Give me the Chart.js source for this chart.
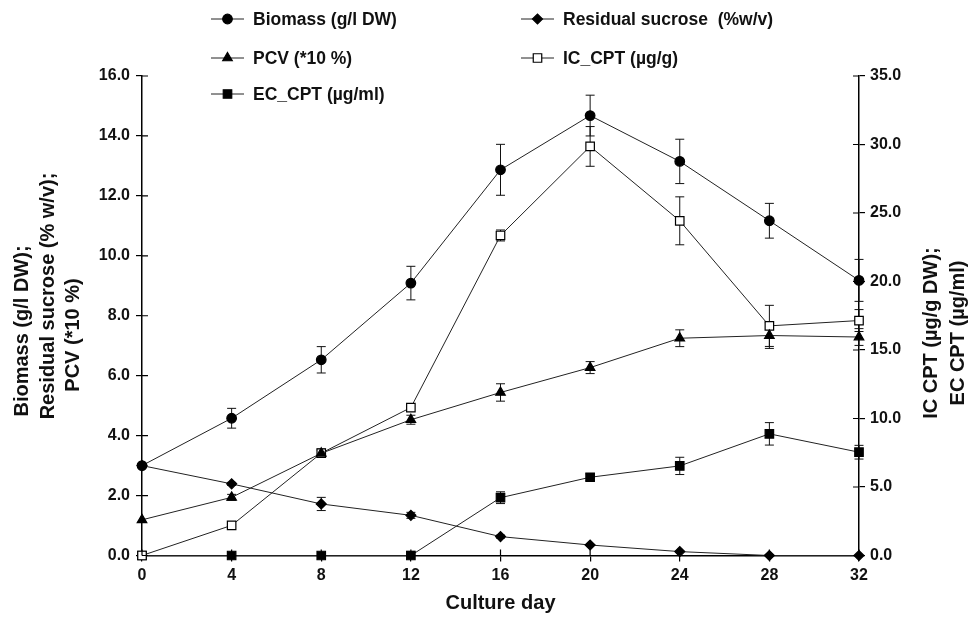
<!DOCTYPE html>
<html>
<head>
<meta charset="utf-8">
<script src="https://cdn.jsdelivr.net/npm/chart.js@4.4.0/dist/chart.umd.min.js"></script>
<style>
  body { margin: 0; background: #fff; }
  #wrap { width: 979px; height: 621px; }
</style>
</head>
<body>
<div id="wrap"><canvas id="myChart" width="979" height="621"></canvas></div>
<script>
const days = [0, 4, 8, 12, 16, 20, 24, 28, 32];

const biomass    = [3.0, 4.58, 6.53, 9.09, 12.87, 14.68, 13.15, 11.17, 9.18];
const biomassErr = [0, 0.33, 0.44, 0.56, 0.85, 0.68, 0.74, 0.58, 0.70];

const sucrose    = [3.0, 2.39, 1.72, 1.34, 0.63, 0.35, 0.13, 0, 0];
const sucroseErr = [0, 0.05, 0.22, 0.10, 0.05, 0, 0, 0, 0];

const pcv    = [1.19, 1.94, 3.41, 4.53, 5.44, 6.27, 7.25, 7.34, 7.29];
const pcvErr = [0, 0.10, 0.10, 0.15, 0.29, 0.20, 0.28, 0.43, 0.28];

const icCpt    = [0, 2.2, 7.47, 10.8, 23.36, 29.86, 24.43, 16.76, 17.15];
const icCptErr = [0, 0, 0.3, 0, 0.4, 1.45, 1.75, 1.5, 0.8];

const ecCpt    = [0, 0, 0, 0, 4.22, 5.71, 6.54, 8.88, 7.54];
const ecCptErr = [0, 0, 0, 0.3, 0.43, 0.25, 0.63, 0.82, 0.5];

const leftTicks = { min: 0, max: 16, step: 2 };
const rightTicks = { min: 0, max: 35, step: 5 };

const leftTitle = ['Biomass (g/l DW);', 'Residual sucrose (% w/v);', 'PCV (*10 %)'];
const rightTitle = ['IC CPT (µg/g DW);', 'EC CPT (µg/ml)'];

const FONT = "'Liberation Sans', Arial, Helvetica, sans-serif";
const INK = '#111';

function pts(vals) {
    return vals.map((v, i) => ({ x: days[i], y: v }));
}

function series(label, vals, errs, axis, style, radius, fill) {
    return {
        label: label,
        data: pts(vals),
        errors: errs,
        yAxisID: axis,
        borderColor: '#222',
        borderWidth: 1,
        pointStyle: style,
        pointRadius: radius,
        pointHoverRadius: radius,
        pointBackgroundColor: fill,
        pointBorderColor: '#000',
        pointBorderWidth: 1.2,
        tension: 0,
        fill: false,
        clip: false
    };
}

// error bars, drawn under the markers
const errorBars = {
    id: 'errorBars',
    beforeDatasetsDraw(chart) {
        const ctx = chart.ctx;
        const xs = chart.scales.x;
        ctx.save();
        ctx.strokeStyle = '#111';
        ctx.lineWidth = 1;
        chart.data.datasets.forEach(ds => {
            const ys = chart.scales[ds.yAxisID];
            ds.data.forEach((p, i) => {
                const e = ds.errors[i];
                if (!e) return;
                const px = xs.getPixelForValue(p.x);
                const top = ys.getPixelForValue(p.y + e);
                const bot = ys.getPixelForValue(Math.max(p.y - e, ys.min));
                ctx.beginPath();
                ctx.moveTo(px, top); ctx.lineTo(px, bot);
                ctx.moveTo(px - 4.5, top); ctx.lineTo(px + 4.5, top);
                if (p.y - e > ys.min) { ctx.moveTo(px - 4.5, bot); ctx.lineTo(px + 4.5, bot); }
                ctx.stroke();
            });
        });
        ctx.restore();
    }
};

// inner half of the crossing tick marks, the axis titles and the legend
const decorations = {
    id: 'decorations',
    afterDraw(chart) {
        const ctx = chart.ctx;
        const a = chart.chartArea;
        const { x, y, y2 } = chart.scales;
        ctx.save();
        ctx.strokeStyle = '#000';
        ctx.lineWidth = 1.2;
        ctx.beginPath();
        x.ticks.forEach(t => { const px = x.getPixelForValue(t.value); ctx.moveTo(px, a.bottom); ctx.lineTo(px, a.bottom - 6); });
        y.ticks.forEach(t => { const py = y.getPixelForValue(t.value); ctx.moveTo(a.left, py); ctx.lineTo(a.left + 6, py); });
        y2.ticks.forEach(t => { const py = y2.getPixelForValue(t.value); ctx.moveTo(a.right, py); ctx.lineTo(a.right - 6, py); });
        ctx.stroke();

        // rotated y titles (each line has its own centre, as in the figure)
        ctx.fillStyle = INK;
        ctx.font = 'bold 20px ' + FONT;
        ctx.textAlign = 'center';
        ctx.textBaseline = 'middle';
        const drawRot = (s, cx, cy) => {
            ctx.save();
            ctx.translate(cx, cy);
            ctx.rotate(-Math.PI / 2);
            ctx.fillText(s, 0, 0);
            ctx.restore();
        };
        drawRot(leftTitle[0], 22, 331);
        drawRot(leftTitle[1], 48, 296);
        drawRot(leftTitle[2], 73, 335);
        drawRot(rightTitle[0], 931, 333);
        drawRot(rightTitle[1], 958, 333);

        // legend: two columns, three rows
        const cols = [211, 521];
        const rows = [19, 58, 94];
        ctx.font = 'bold 17.5px ' + FONT;
        ctx.textAlign = 'left';
        chart.data.datasets.forEach((ds, i) => {
            const lx = cols[i % 2];
            const ly = rows[Math.floor(i / 2)];
            ctx.strokeStyle = '#222';
            ctx.lineWidth = 1;
            ctx.beginPath();
            ctx.moveTo(lx, ly); ctx.lineTo(lx + 33, ly);
            ctx.stroke();
            ctx.fillStyle = ds.pointBackgroundColor;
            ctx.strokeStyle = '#000';
            ctx.lineWidth = 1.2;
            Chart.helpers.drawPoint(ctx, { pointStyle: ds.pointStyle, radius: ds.pointRadius, rotation: 0, borderWidth: 1.2 }, lx + 16.5, ly);
            ctx.fillStyle = INK;
            ctx.fillText(ds.label, lx + 42, ly + 1);
        });
        ctx.restore();
    }
};

const tickFont = { family: FONT, size: 16, weight: 'bold' };
const gridOpts = { drawOnChartArea: false, drawTicks: true, tickLength: 6, color: '#000', lineWidth: 1.2 };

var ctx = document.getElementById('myChart');
var myChart = new Chart(ctx, {
    type: 'line',
    data: {
        datasets: [
            series('Biomass (g/l DW)', biomass, biomassErr, 'y', 'circle', 4.8, '#000'),
            series('Residual sucrose  (%w/v)', sucrose, sucroseErr, 'y', 'rectRot', 5, '#000'),
            series('PCV (*10 %)', pcv, pcvErr, 'y', 'triangle', 5.5, '#000'),
            series('IC_CPT (µg/g)', icCpt, icCptErr, 'y2', 'rect', 6, '#fff'),
            series('EC_CPT (µg/ml)', ecCpt, ecCptErr, 'y2', 'rect', 6, '#000')
        ]
    },
    options: {
        responsive: false,
        animation: false,
        events: [],
        layout: { padding: { top: 76, left: 0, right: 0, bottom: 0 } },
        plugins: { legend: { display: false }, tooltip: { enabled: false } },
        scales: {
            x: {
                type: 'linear',
                min: 0, max: 32,
                ticks: { stepSize: 4, font: tickFont, color: INK, padding: 4 },
                grid: gridOpts,
                border: { color: '#000', width: 1.5 },
                title: { display: true, text: 'Culture day', color: INK, font: { family: FONT, size: 20, weight: 'bold' }, padding: { top: 0, bottom: 6 } },
                afterFit: s => { s.height = 65.5; }
            },
            y: {
                position: 'left',
                min: leftTicks.min, max: leftTicks.max,
                ticks: { stepSize: leftTicks.step, font: tickFont, color: INK, padding: 6, callback: v => v.toFixed(1) },
                grid: gridOpts,
                border: { color: '#000', width: 1.5 },
                afterFit: s => { s.width = 142; }
            },
            y2: {
                position: 'right',
                min: rightTicks.min, max: rightTicks.max,
                ticks: { stepSize: rightTicks.step, font: tickFont, color: INK, padding: 5, callback: v => v.toFixed(1) },
                grid: gridOpts,
                border: { color: '#000', width: 1.5 },
                afterFit: s => { s.width = 120; }
            }
        }
    },
    plugins: [errorBars, decorations]
});
</script>
</body>
</html>
